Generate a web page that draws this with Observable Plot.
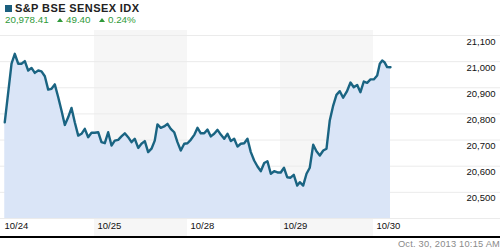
<!DOCTYPE html>
<html>
<head>
<meta charset="utf-8">
<script src="https://cdn.jsdelivr.net/npm/d3@7"></script>
<script src="https://cdn.jsdelivr.net/npm/@observablehq/plot@0.6"></script>
<style>
  html, body { margin: 0; padding: 0; background: #fff; }
  body { width: 500px; height: 250px; position: relative; overflow: hidden; font-family: "Liberation Sans", Arial, sans-serif; }
  #header { position: absolute; left: 0; top: 0; width: 500px; height: 30px; }
  #sq { position: absolute; left: 5px; top: 5px; width: 7px; height: 7px; background: #1b5f7e; }
  #title { position: absolute; left: 15px; top: 2px; font-weight: bold; font-size: 11px; letter-spacing: 0.4px; color: #222; line-height: 13px; }
  .quote { position: absolute; top: 14px; font-size: 9.8px; color: #2f9a3a; line-height: 12px; white-space: nowrap; }
  .tri { display: inline-block; width: 0; height: 0; border-left: 3.5px solid transparent; border-right: 3.5px solid transparent; border-bottom: 4px solid #2f9a3a; margin-right: 3px; vertical-align: 1px; }
  #chart { position: absolute; left: 0; top: 30px; }
  #axisline { position: absolute; left: 0; top: 236px; width: 500px; height: 2px; background: #000; }
  #caption { position: absolute; right: 0px; top: 238px; font-size: 9.3px; letter-spacing: 0.2px; color: #8a8a8a; line-height: 12px; white-space: nowrap; }
</style>
</head>
<body>
<div id="header">
  <div id="sq"></div>
  <div id="title">S&amp;P BSE SENSEX IDX</div>
  <div class="quote" style="left:5px">20,978.41</div>
  <div class="quote" style="left:57px"><span class="tri"></span>49.40</div>
  <div class="quote" style="left:99px"><span class="tri"></span>0.24%</div>
</div>
<div id="chart"></div>
<div id="axisline"></div>
<div id="caption">Oct. 30, 2013 10:15 AM</div>
<script>
// Trading-day position (day index + fraction of session) and index level
const times = [
  0.035,0.108,0.143,0.180,0.215,0.251,0.287,0.323,0.358,0.395,0.430,0.466,0.502,0.538,0.573,0.610,0.645,0.681,0.717,0.753,0.788,0.825,0.860,0.896,0.932,0.968,1.003,
  1.040,1.075,1.111,1.147,1.183,1.218,1.255,1.290,1.326,1.362,1.398,1.433,1.470,1.505,1.541,1.577,1.613,1.648,1.677,1.713,1.749,1.785,1.820,1.857,1.892,1.928,1.965,2.000,
  2.035,2.075,2.108,2.143,2.180,2.215,2.251,2.287,2.323,2.358,2.395,2.430,2.466,2.502,2.538,2.573,2.610,2.645,2.681,2.717,2.753,2.788,2.825,2.860,2.896,2.932,2.968,3.003,
  3.038,3.072,3.108,3.143,3.180,3.208,3.244,3.280,3.315,3.352,3.387,3.423,3.460,3.495,3.530,3.567,3.602,3.638,3.674,3.713,3.753,3.788,3.825,3.860,3.896,3.932,3.968,4.003,
  4.040,4.068,4.094,4.118,4.147,4.183
];
const prices = [
  20768,20992,21030,20992,20992,21002,20966,20976,20957,20966,20963,20944,20893,20896,20913,20864,20813,20758,20787,20823,20768,20717,20724,20743,20711,20728,20728,
  20730,20692,20688,20730,20679,20698,20701,20714,20726,20711,20692,20705,20670,20686,20696,20654,20667,20698,20760,20747,20752,20762,20743,20730,20692,20660,20686,20688,
  20701,20721,20747,20726,20726,20740,20714,20724,20739,20721,20705,20724,20696,20705,20675,20686,20688,20705,20654,20622,20599,20581,20612,20619,20571,20581,20576,20576,
  20594,20558,20556,20567,20526,20539,20526,20571,20594,20682,20657,20641,20660,20667,20775,20832,20873,20887,20862,20885,20920,20902,20911,20883,20924,20919,20932,20932,
  20947,20992,21004,20998,20979,20978.41
];
const dayLabels = ["10/24", "10/25", "10/28", "10/29", "10/30"];
const dayStarts = [0, 1, 2, 3, 4];
const shadedDays = [1, 3];
const gridValues = [20400, 20500, 20600, 20700, 20800, 20900, 21000, 21100];
const yTickValues = [20500, 20600, 20700, 20800, 20900, 21000, 21100];
const yMin = 20400, yMax = 21100;

const data = times.map((t, i) => ({t, price: prices[i]}));
const days = dayStarts.map((d, i) => ({d, label: dayLabels[i]}));
const bands = shadedDays.map(d => ({x1: d, x2: d + 1}));
const fmt = d3.format(",");

const chart = Plot.plot({
  width: 500,
  height: 206,
  marginTop: 5,
  marginBottom: 18,
  marginLeft: 1,
  marginRight: 0,
  style: {fontFamily: "'Liberation Sans', Arial, sans-serif", background: "transparent", overflow: "visible"},
  x: {domain: [0, 5.366], axis: null},
  y: {domain: [yMin, yMax], axis: null},
  marks: [
    Plot.rect(bands, {x1: "x1", x2: "x2", y1: yMin, y2: yMax, fill: "#f6f6f6", insetTop: -5, insetBottom: -18}),
    Plot.ruleY(gridValues, {stroke: "#ebebeb", strokeWidth: 1, insetLeft: -1}),
    Plot.areaY(data, {x: "t", y1: yMin, y2: "price", fill: "#dae5f7"}),
    Plot.line(data, {x: "t", y: "price", stroke: "#1a6482", strokeWidth: 2.4, strokeLinejoin: "round"}),
    Plot.text(yTickValues, {y: d => d, text: d => fmt(d), frameAnchor: "right", textAnchor: "end", dx: -5, dy: 6, fontSize: 9.5, fill: "#111"}),
    Plot.text(days, {x: "d", text: "label", frameAnchor: "bottom", textAnchor: "start", dx: 3, dy: 10, fontSize: 9.5, fill: "#111"})
  ]
});
document.getElementById("chart").appendChild(chart);
</script>
</body>
</html>
